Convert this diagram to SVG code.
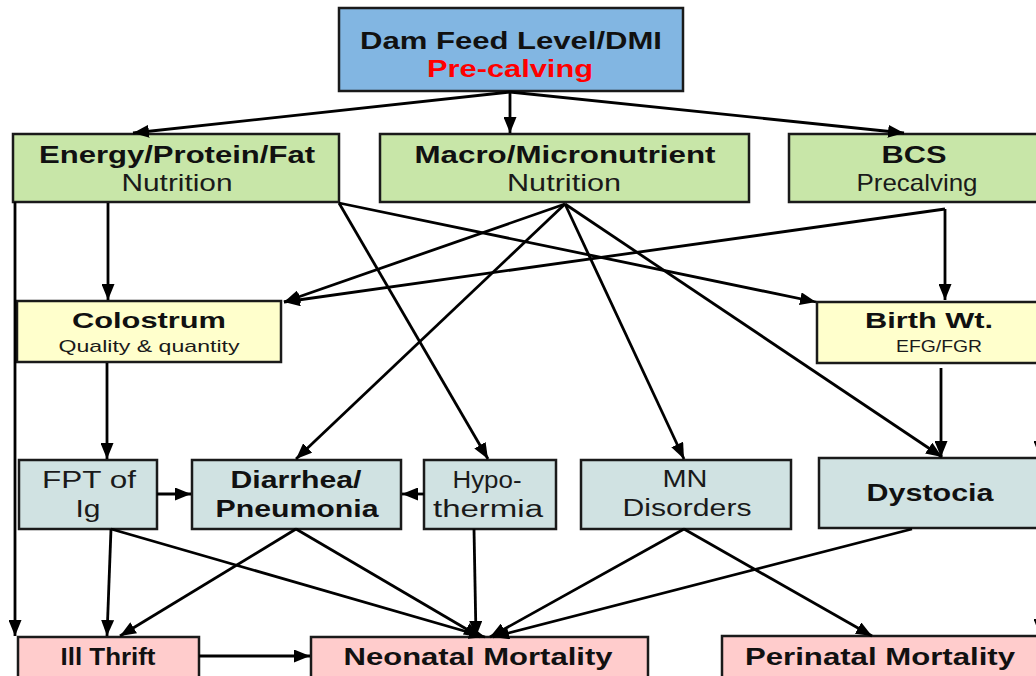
<svg xmlns="http://www.w3.org/2000/svg" width="1036" height="676" viewBox="0 0 1036 676">
<defs>
<style>
.box{stroke:#1a1a1a;stroke-width:2.5}
.blue{fill:#82B6E2}
.green{fill:#C8E6A8}
.yellow{fill:#FFFFCC}
.grey{fill:#D0E2E2}
.pink{fill:#FFCCCC}
text{font-family:"Liberation Sans",Arial,sans-serif;text-anchor:middle;fill:#1a1a1a}
.b{font-weight:bold;fill:#111}
.c line{stroke:#000;stroke-width:2.8;marker-end:url(#ah)}
</style>
<marker id="ah" viewBox="0 0 16 13" refX="16" refY="6.5" markerWidth="16" markerHeight="13" orient="auto" markerUnits="userSpaceOnUse"><path d="M0,0 L16,6.5 L0,13 z" fill="#000"/></marker>
</defs>
<rect width="1036" height="676" fill="#fff"/>

<g id="dam"><rect class="box blue" x="339" y="8" width="344" height="83"/>
<text class="b" x="511" y="49" font-size="24" textLength="302" lengthAdjust="spacingAndGlyphs">Dam Feed Level/DMI</text>
<text class="b" x="510" y="77" font-size="24" textLength="166" lengthAdjust="spacingAndGlyphs" style="fill:#FF0000">Pre-calving</text></g>

<g id="energy"><rect class="box green" x="13" y="134" width="326" height="68"/>
<text class="b" x="177" y="163" font-size="23" textLength="276" lengthAdjust="spacingAndGlyphs">Energy/Protein/Fat</text>
<text x="177" y="191" font-size="24" textLength="111" lengthAdjust="spacingAndGlyphs">Nutrition</text></g>

<g id="macro"><rect class="box green" x="380" y="134" width="369" height="68"/>
<text class="b" x="565" y="163" font-size="23" textLength="301" lengthAdjust="spacingAndGlyphs">Macro/Micronutrient</text>
<text x="564" y="191" font-size="24" textLength="114" lengthAdjust="spacingAndGlyphs">Nutrition</text></g>

<g id="bcs"><rect class="box green" x="789" y="134" width="260" height="68"/>
<text class="b" x="914" y="163" font-size="23" textLength="65" lengthAdjust="spacingAndGlyphs">BCS</text>
<text x="917" y="191" font-size="24" textLength="121" lengthAdjust="spacingAndGlyphs">Precalving</text></g>

<g id="colostrum"><rect class="box yellow" x="17" y="301" width="264" height="61"/>
<text class="b" x="149" y="328" font-size="22" textLength="154" lengthAdjust="spacingAndGlyphs">Colostrum</text>
<text x="149" y="352" font-size="17" textLength="181" lengthAdjust="spacingAndGlyphs">Quality &amp; quantity</text></g>

<g id="birthwt"><rect class="box yellow" x="817" y="302" width="230" height="61"/>
<text class="b" x="929" y="328" font-size="22" textLength="128" lengthAdjust="spacingAndGlyphs">Birth Wt.</text>
<text x="939" y="352" font-size="17" textLength="86" lengthAdjust="spacingAndGlyphs">EFG/FGR</text></g>

<g id="fpt"><rect class="box grey" x="19" y="460" width="138" height="69"/>
<text x="89" y="488" font-size="23" textLength="94" lengthAdjust="spacingAndGlyphs">FPT of</text>
<text x="88" y="517" font-size="23" textLength="25" lengthAdjust="spacingAndGlyphs">Ig</text></g>

<g id="diarrhea"><rect class="box grey" x="192" y="460" width="209" height="69"/>
<text class="b" x="296" y="488" font-size="23" textLength="131" lengthAdjust="spacingAndGlyphs">Diarrhea/</text>
<text class="b" x="297" y="517" font-size="23" textLength="163" lengthAdjust="spacingAndGlyphs">Pneumonia</text></g>

<g id="hypo"><rect class="box grey" x="424" y="460" width="132" height="69"/>
<text x="487" y="488" font-size="23" textLength="69" lengthAdjust="spacingAndGlyphs">Hypo-</text>
<text x="488" y="517" font-size="23" textLength="110" lengthAdjust="spacingAndGlyphs">thermia</text></g>

<g id="mn"><rect class="box grey" x="581" y="460" width="210" height="69"/>
<text x="685" y="487" font-size="23" textLength="45" lengthAdjust="spacingAndGlyphs">MN</text>
<text x="687" y="516" font-size="23" textLength="129" lengthAdjust="spacingAndGlyphs">Disorders</text></g>

<g id="dystocia"><rect class="box grey" x="819" y="458" width="230" height="70"/>
<text class="b" x="930" y="501" font-size="23" textLength="127" lengthAdjust="spacingAndGlyphs">Dystocia</text></g>

<g id="illthrift"><rect class="box pink" x="18" y="637" width="181" height="50"/>
<text class="b" x="108" y="665" font-size="24" textLength="95" lengthAdjust="spacingAndGlyphs">Ill Thrift</text></g>

<g id="neonatal"><rect class="box pink" x="311" y="637" width="337" height="50"/>
<text class="b" x="478" y="665" font-size="24" textLength="269" lengthAdjust="spacingAndGlyphs">Neonatal Mortality</text></g>

<g id="perinatal"><rect class="box pink" x="722" y="636" width="330" height="50"/>
<text class="b" x="880" y="665" font-size="24" textLength="270" lengthAdjust="spacingAndGlyphs">Perinatal Mortality</text></g>

<g id="connectors" class="c">
<line x1="510" y1="92" x2="133" y2="133"/>
<line x1="510" y1="92" x2="510" y2="133"/>
<line x1="510" y1="92" x2="904" y2="133"/>
<line x1="15" y1="202" x2="15" y2="636"/>
<line x1="108" y1="203" x2="108" y2="300"/>
<line x1="107" y1="363" x2="107" y2="459"/>
<line x1="339" y1="203" x2="488" y2="459"/>
<line x1="339" y1="203" x2="816" y2="302"/>
<line x1="565" y1="204" x2="284" y2="302"/>
<line x1="945" y1="209" x2="284" y2="302"/>
<line x1="945" y1="209" x2="945" y2="300"/>
<line x1="565" y1="204" x2="296" y2="459"/>
<line x1="565" y1="204" x2="684" y2="459"/>
<line x1="565" y1="204" x2="942" y2="457"/>
<line x1="941" y1="368" x2="941" y2="457"/>
<line x1="157" y1="494" x2="191" y2="494"/>
<line x1="424" y1="494" x2="402" y2="494"/>
<line x1="111" y1="529" x2="107" y2="636"/>
<line x1="111" y1="529" x2="485" y2="637"/>
<line x1="296" y1="529" x2="120" y2="636"/>
<line x1="296" y1="529" x2="480" y2="637"/>
<line x1="474" y1="529" x2="476" y2="637"/>
<line x1="684" y1="529" x2="490" y2="637"/>
<line x1="684" y1="529" x2="872" y2="636"/>
<line x1="912" y1="529" x2="493" y2="637"/>
<line x1="199" y1="656" x2="310" y2="656"/>
<line x1="1040" y1="380" x2="1040" y2="457"/>
<line x1="1040" y1="540" x2="1040" y2="635"/>
</g>
</svg>
